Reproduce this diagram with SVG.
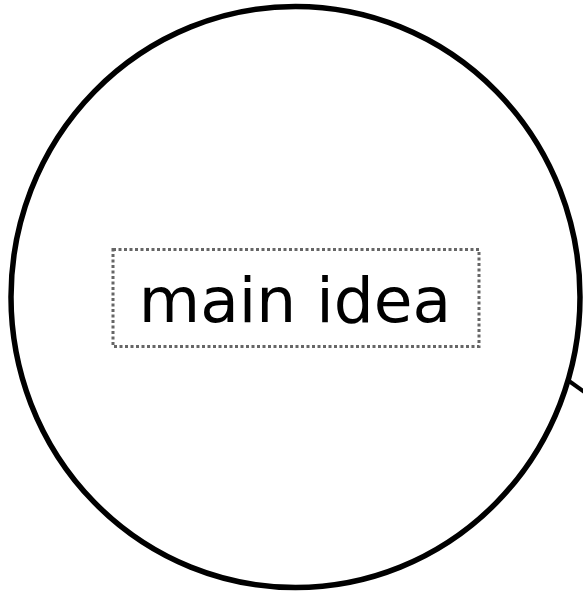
<svg xmlns="http://www.w3.org/2000/svg" width="583" height="592" viewBox="0 0 583 592">
<style>
.shape{fill:#fff;stroke:#000;stroke-width:5.5}
.box{fill:none;stroke:#666;stroke-width:3;stroke-dasharray:3 2.5}
.label{font-family:"DejaVu Sans",Verdana,sans-serif;font-size:63px;fill:#000}
.edge{fill:none;stroke:#000;stroke-width:4}
</style>
<rect width="583" height="592" fill="#fff"/>
<g id="connectors">
<line class="edge" x1="569" y1="381" x2="590" y2="396"/>
</g>
<g id="main">
<ellipse class="shape" cx="295.5" cy="297" rx="284.5" ry="290.5"/>
<rect class="box" x="113" y="249.5" width="366" height="97"/>
<text class="label" x="295" y="322" text-anchor="middle">main idea</text>
</g>
</svg>
